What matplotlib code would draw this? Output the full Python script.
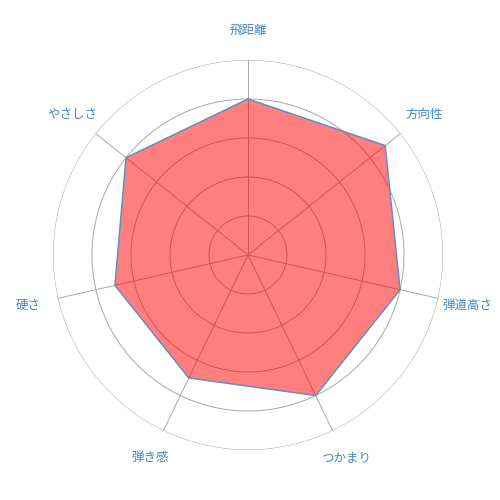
import numpy as np
import matplotlib
matplotlib.use("Agg")
import matplotlib.pyplot as plt

plt.rcParams['font.family'] = ['Noto Sans CJK JP', 'DejaVu Sans']

categories = ["飛距離", "方向性", "弾道高さ", "つかまり", "弾き感", "硬さ", "やさしさ"]
values = [4.0, 4.5, 4.0, 4.0, 3.5, 3.5, 4.0]
rings = [1, 2, 3, 4, 5]
rmax = 5

fig = plt.figure(figsize=(5, 5), dpi=100)
ax = fig.add_axes([0.106, 0.10, 0.78, 0.78], projection='polar')
ax.set_theta_zero_location('N')
ax.set_theta_direction(-1)
ax.set_ylim(0, rmax)
ax.axis('off')

n = len(categories)
angles = np.arange(n) * 2 * np.pi / n
grid_c = '#a8a8a8'
tt = np.linspace(0, 2 * np.pi, 400)
for r in rings:
    ax.plot(tt, np.full_like(tt, r), color=grid_c, lw=0.7, zorder=1)
for a in angles:
    ax.plot([a, a], [0, rmax], color=grid_c, lw=0.7, zorder=1)

va = list(values) + [values[0]]
aa = list(angles) + [angles[0]]
ax.fill(aa, va, color='#ff0000', alpha=0.5, zorder=2, lw=0)
ax.plot(aa, va, color='#628fbf', lw=1.1, zorder=3)

for a, c in zip(angles, categories):
    ax.text(a, rmax * 1.155, c, ha='center', va='center', fontsize=9, color='#4288bf')

fig.savefig('out.png', dpi=100)
